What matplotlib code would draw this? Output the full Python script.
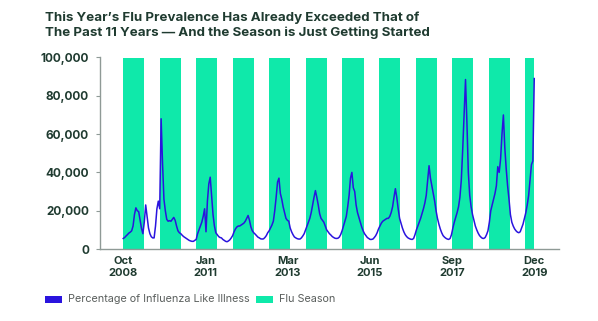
import matplotlib
matplotlib.use("Agg")
import matplotlib.pyplot as plt
from matplotlib.patches import Rectangle
import pandas as pd

plt.rcParams['font.family'] = ['Inter', 'DejaVu Sans']

# Influenza-like illness, sampled every two weeks from early October 2008
start_date = "2008-10-04"
ili_values = [
    5.5, 6.0, 6.8, 7.5, 8.3, 8.8, 9.5, 12, 18, 21.5,
    20, 19.5, 15, 10.8, 8, 14, 23, 17, 11, 8,
    6.4, 5.8, 5.8, 12, 21, 25, 21, 68, 45, 26,
    20, 15.5, 14.5, 14.8, 14.5, 15.5, 16.5, 15, 12, 9.5,
    8.5, 8.0, 7.2, 6.5, 6.0, 5.5, 5.0, 4.5, 4.2, 4.0,
    4.0, 4.5, 5.0, 8, 10, 12, 14, 17, 21, 9,
    25, 34, 37.5, 28, 18, 12, 8.5, 7.5, 6.5, 6.0,
    5.8, 5.0, 4.5, 4.0, 3.8, 4.2, 4.8, 5.8, 7, 9,
    10.5, 11.5, 12, 12, 12.5, 13, 13.5, 14.5, 16, 17.5,
    15, 11.5, 9.5, 8.5, 7.8, 7, 6.2, 5.8, 5.3, 5.2,
    5.3, 6.0, 7, 8.5, 9.5, 11, 12.5, 14.5, 20, 27,
    35, 37, 29, 26, 22, 19, 16, 15, 14.5, 11,
    9, 7.5, 6.3, 5.8, 5.4, 5.2, 5.2, 5.8, 6.8, 8,
    10, 12, 14, 16, 19, 23, 27, 30.5, 27, 23,
    18.5, 16, 15, 14, 12, 10, 9, 8, 7.3, 6.5,
    6, 5.6, 5.5, 5.6, 6.2, 7.5, 9.5, 12, 14.5, 17,
    22, 28, 37, 40, 32, 30, 23, 19, 16.5, 14,
    11.5, 9.5, 8, 7, 6, 5.5, 5.0, 5.0, 5.2, 6,
    7, 8.5, 10.5, 12, 13.5, 14.5, 15, 15.5, 16, 16,
    17, 19, 22, 27, 31.5, 27, 21, 16, 13.5, 11,
    9, 7.5, 6.5, 5.8, 5.4, 5.1, 5.0, 5.5, 7.5, 10,
    12, 14, 16, 18.5, 21, 24, 28, 36, 43.5, 37,
    33, 29, 25, 20, 16, 13, 10.5, 8.5, 7, 6.2,
    5.6, 5.2, 5.0, 5.5, 7.5, 11, 14, 16.5, 19, 22,
    27, 36, 52, 70, 88.5, 66, 40, 28, 22, 18,
    15, 12, 10, 8.3, 7, 6.2, 5.6, 5.5, 6.0, 7.5,
    9.5, 14, 20, 23, 26, 29, 33, 43, 40, 47,
    60, 70, 53, 42, 33, 26, 18, 14, 12, 10.5,
    9.5, 8.8, 8.5, 9, 11, 13, 16, 19, 23, 28,
    36, 44, 46, 89,
]
ili_values = [v * 1000 for v in ili_values]

# Flu seasons: October through April, the last one still in progress
season_starts = ["2008-10-04", "2009-10-01", "2010-10-01", "2011-10-01",
                 "2012-10-01", "2013-10-01", "2014-10-01", "2015-10-01",
                 "2016-10-01", "2017-10-01", "2018-10-01", "2019-10-01"]
season_ends = ["2009-04-30", "2010-04-30", "2011-04-30", "2012-04-30",
               "2013-04-30", "2014-04-30", "2015-04-30", "2016-04-30",
               "2017-04-30", "2018-04-30", "2019-04-30", "2019-12-21"]

x_tick_labels = ["Oct\n2008", "Jan\n2011", "Mar\n2013", "Jun\n2015",
                 "Sep\n2017", "Dec\n2019"]
y_ticks = [0, 20000, 40000, 60000, 80000, 100000]

title = ("This Year\u2019s Flu Prevalence Has Already Exceeded That of\n"
         "The Past 11 Years \u2014 And the Season is Just Getting Started")

LINE = "#2a14de"
GREEN = "#0fe9aa"
DARK = "#1f3b30"
AXIS = "#8f9a96"

dates = pd.date_range(start_date, periods=len(ili_values), freq="14D")

fig = plt.figure(figsize=(5.98, 3.21), dpi=100)
ax = fig.add_axes([100 / 598, 1 - 249 / 321, 459.3 / 598, 191.5 / 321])

for s, e in zip(season_starts, season_ends):
    ax.axvspan(pd.Timestamp(s), pd.Timestamp(e), ymin=0, ymax=1,
               color=GREEN, lw=0, zorder=1)

ax.plot(dates, ili_values, color=LINE, lw=1.1, zorder=3)

ax.set_ylim(0, 100000)
ax.set_xlim(dates[0] - pd.Timedelta(days=232), dates[-1] + pd.Timedelta(days=250))

span = (dates[-1] - dates[0]) / 5
tick_pos = [dates[0] + span * i for i in range(len(x_tick_labels))]
ax.set_xticks(tick_pos)
ax.set_xticklabels(x_tick_labels, fontsize=8, fontweight="bold", color=DARK,
                   linespacing=1.3)
ax.tick_params(axis="x", length=0, pad=5)

ax.set_yticks(y_ticks)
ax.set_yticklabels([f"{v:,}" for v in y_ticks], fontsize=8.5,
                   fontweight="bold", color=DARK)
ax.tick_params(axis="y", length=3, width=0.8, color=AXIS, pad=5)

for side in ("top", "right"):
    ax.spines[side].set_visible(False)
for side in ("left", "bottom"):
    ax.spines[side].set_color(AXIS)
    ax.spines[side].set_linewidth(1.0)

fig.text(45 / 598, 1 - 11 / 321, title, ha="left", va="top", fontsize=9.6,
         fontweight="bold", color=DARK, linespacing=1.3)

# Legend row
def legend_item(x0, color, label):
    fig.add_artist(Rectangle((x0 / 598, 1 - 303.3 / 321), 17 / 598, 7.3 / 321,
                             transform=fig.transFigure, color=color, lw=0))
    fig.text((x0 + 23) / 598, 1 - 299.5 / 321, label, ha="left", va="center",
             fontsize=7.8, color="#5a5f5d")

legend_item(45, LINE, "Percentage of Influenza Like Illness")
legend_item(256, GREEN, "Flu Season")

fig.savefig("out.png", dpi=100)
